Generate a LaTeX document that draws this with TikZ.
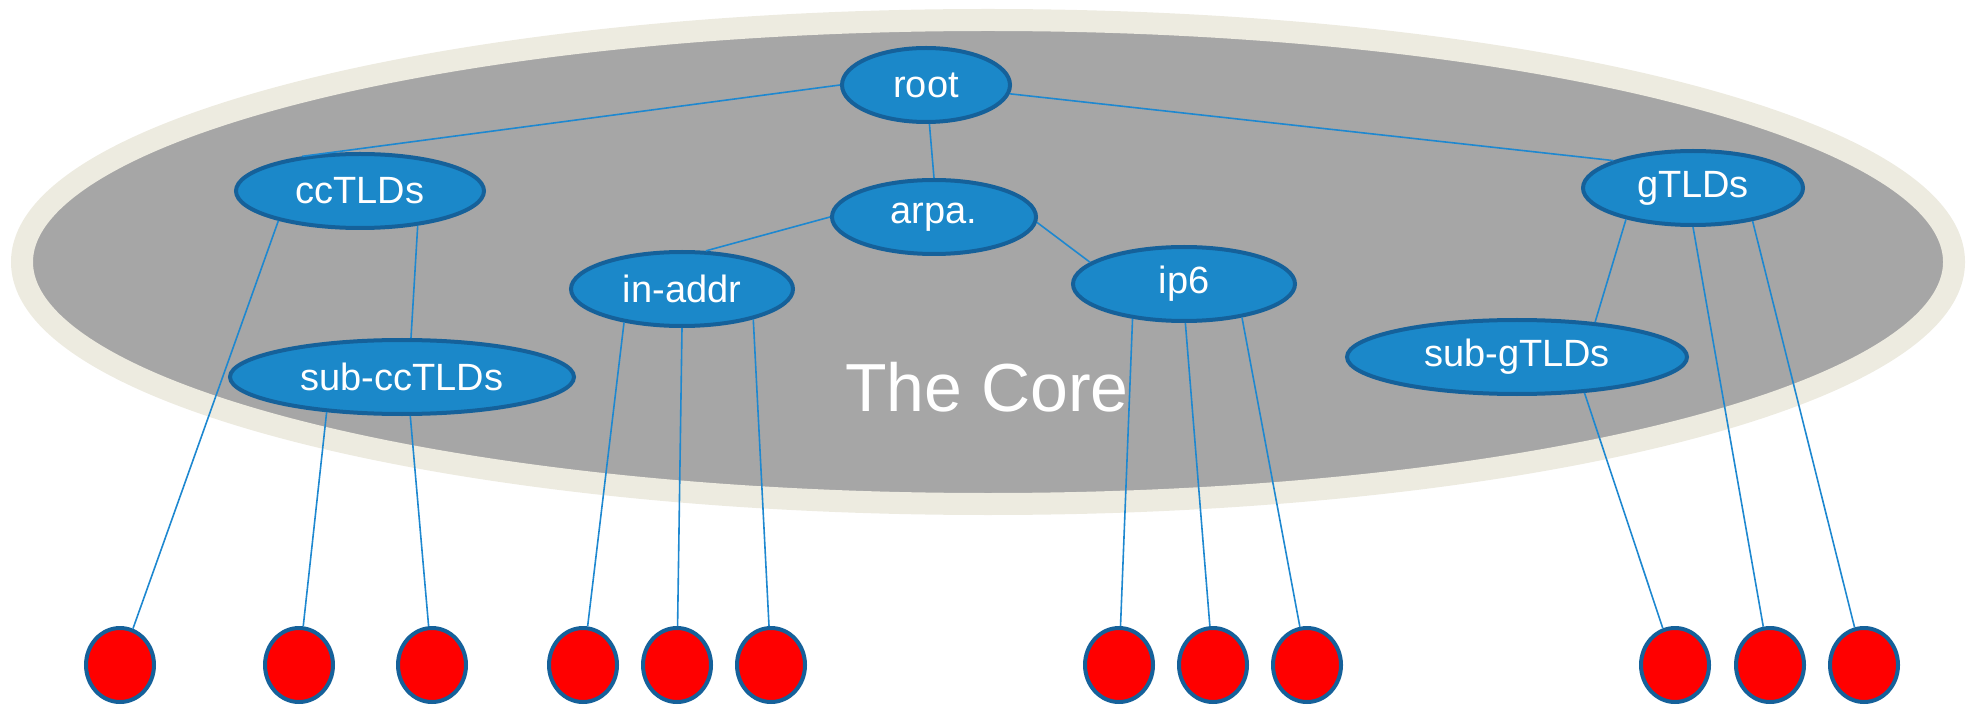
\documentclass[tikz,border=0pt]{standalone}
\usepackage{fontspec}
\setmainfont{Liberation Sans}
\usetikzlibrary{shapes.geometric}
\definecolor{coregray}{HTML}{A6A6A6}
\definecolor{ringbeige}{HTML}{EDEBE0}
\definecolor{zonefill}{HTML}{1B88C9}
\definecolor{zoneedge}{HTML}{15619A}
\definecolor{linkblue}{HTML}{1E88D0}
\tikzset{
  zone/.style={ellipse, draw=zoneedge, line width=2pt, fill=zonefill, text=white,
    inner sep=0pt, minimum height=37pt, font=\fontsize{19}{21}\selectfont},
  leaf/.style={ellipse, draw=zoneedge, line width=2pt, fill=red, inner sep=0pt,
    minimum width=34pt, minimum height=37pt},
  link/.style={draw=linkblue, line width=0.8pt}
}
\begin{document}
\begin{tikzpicture}[x=0.5pt,y=-0.5pt]
\useasboundingbox (0,0) rectangle (1979,705);
% the core
\draw[ringbeige, line width=11pt, fill=coregray] (988,262) ellipse [x radius=966, y radius=242];
\node[text=white, anchor=base, font=\fontsize{34}{36}\selectfont] (core) at (987,411) {The Core};
% zones
\node[zone, minimum width=84pt] (root) at (926,85) {root};
\node[zone, minimum width=124pt] (cc) at (360,191) {ccTLDs};
\node[zone, minimum width=102pt] (arpa) at (934,217) {arpa.};
\node[zone, minimum width=111pt] (inaddr) at (682,289) {in-addr};
\node[zone, minimum width=111pt] (ipsix) at (1184,284) {ip6};
\node[zone, minimum width=110pt] (g) at (1693,188) {gTLDs};
\node[zone, minimum width=172pt] (subcc) at (402,377) {sub-ccTLDs};
\node[zone, minimum width=170pt] (subg) at (1517,357) {sub-gTLDs};
% leaves
\foreach \x [count=\i] in {120,299,432,583,677,771,1119,1213,1307,1675,1770,1864}
  \node[leaf] (leaf\i) at (\x,665) {};
% links
\foreach \a/\b in {root.180/cc.149, root.275/arpa.north, root.354/g.161,
    arpa.west/inaddr.58, arpa.357/ipsix.167, cc.329/subcc.77, g.205/subg.24}
  \draw[link] (\a) -- (\b);
\foreach \a/\b in {cc.200/leaf1, subcc.205/leaf2, subcc.282/leaf3,
    inaddr.210/leaf4, inaddr.270/leaf5, inaddr.337/leaf6,
    ipsix.214/leaf7, ipsix.272/leaf8, ipsix.330/leaf9,
    subg.332/leaf10, g.270/leaf11, g.331/leaf12}
  \draw[link] (\a) -- (\b);
\end{tikzpicture}
\end{document}
